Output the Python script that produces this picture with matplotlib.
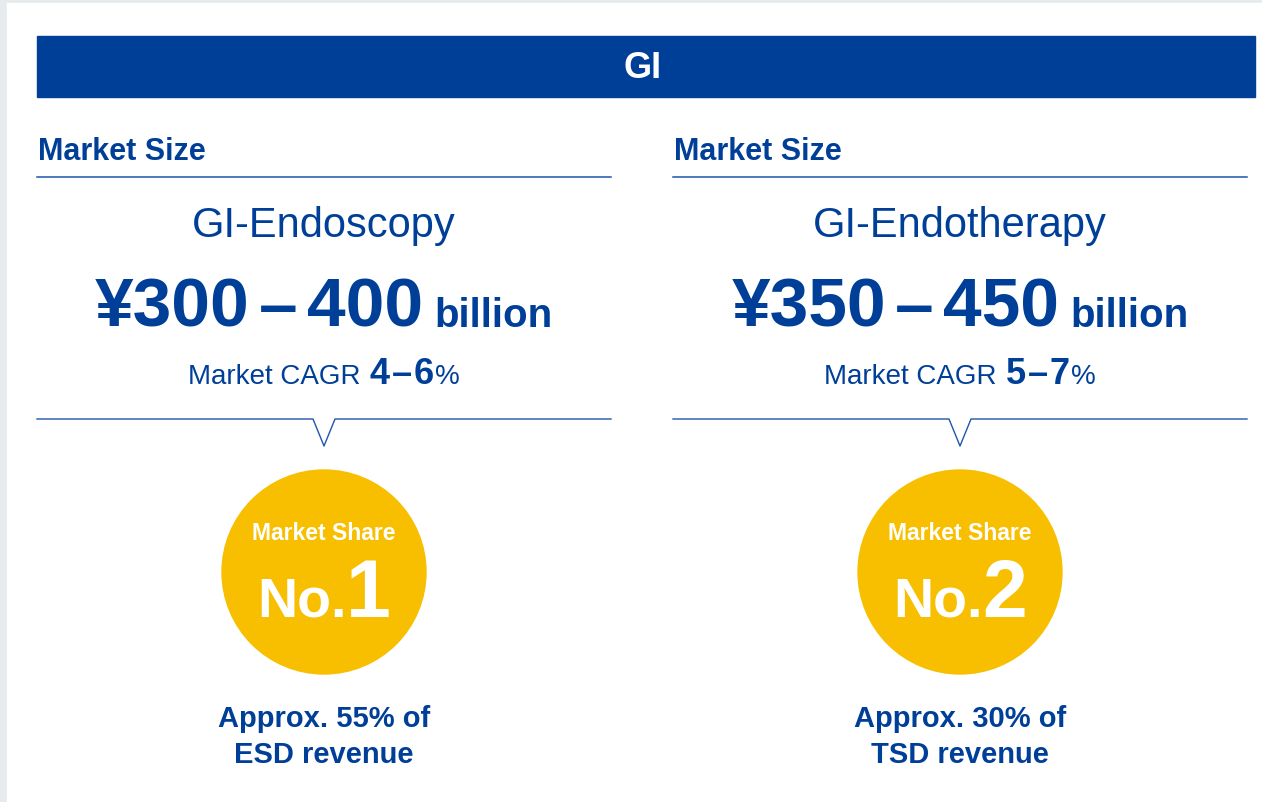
"""
GI market overview card: market size, CAGR and market share per segment.
"""

import matplotlib.pyplot as plt
from matplotlib.patches import Rectangle, Circle

# data
header = 'GI'
segments = ['GI-Endoscopy', 'GI-Endotherapy']
size_low = [300, 350]          # ¥ billion
size_high = [400, 450]
cagr_low = [4, 5]              # %
cagr_high = [6, 7]
share_rank = [1, 2]
share_pct = [55, 30]
procedures = ['ESD', 'TSD']

BLUE = '#003f98'
LINE = '#1f55ab'
YELLOW = '#f8bf00'
GREY = '#e6ebee'
FONT = 'Liberation Sans'

W, H = 1262, 803


def draw_row(ax, renderer, cx, y, pieces, color, zorder=3):
    """Draw text pieces (text, size, weight, gap_after) side by side on one baseline, centred on cx."""
    texts, widths = [], []
    for txt, size, weight, gap in pieces:
        t = ax.text(0, y, txt, fontsize=size, fontweight=weight, family=FONT,
                    color=color, ha='left', va='baseline', zorder=zorder)
        texts.append(t)
        widths.append(t.get_window_extent(renderer).width + gap)
    x = cx - sum(widths) / 2
    for t, w in zip(texts, widths):
        t.set_x(x)
        x += w


fig = plt.figure(figsize=(W / 100, H / 100), dpi=100)
ax = fig.add_axes([0, 0, 1, 1])
ax.set_xlim(0, W)
ax.set_ylim(H, 0)
ax.axis('off')
renderer = fig.canvas.get_renderer()

# page frame
ax.add_patch(Rectangle((0, 0), W, H, color=GREY, zorder=0))
ax.add_patch(Rectangle((7, 4), W - 7, H - 4, color='white', zorder=0))

# header bar
ax.add_patch(Rectangle((37, 37), 1218, 61, color=BLUE, zorder=1))
ax.text(643, 68, header, fontsize=26, fontweight='bold', family=FONT,
        color='white', ha='center', va='center')

col_left = [37, 673]
col_width = 574

for i, seg in enumerate(segments):
    x0 = col_left[i]
    cx = x0 + col_width / 2

    ax.text(x0 + 1, 160, 'Market Size', fontsize=22, fontweight='bold',
            family=FONT, color=BLUE, ha='left', va='baseline')
    ax.plot([x0, x0 + col_width], [178, 178], color=LINE, lw=1.1)

    ax.text(cx, 237, seg, fontsize=30, family=FONT, color=BLUE,
            ha='center', va='baseline')

    draw_row(ax, renderer, cx, 327, [
        (f'¥{size_low[i]}', 50, 'bold', 9),
        ('–', 50, 'bold', 9),
        (f'{size_high[i]}', 50, 'bold', 12),
        ('billion', 29, 'bold', 0),
    ], BLUE)

    draw_row(ax, renderer, cx, 384, [
        ('Market CAGR ', 20, 'normal', 1),
        (f'{cagr_low[i]}', 26, 'bold', 2),
        ('–', 26, 'bold', 2),
        (f'{cagr_high[i]}', 26, 'bold', 1),
        ('%', 20, 'normal', 0),
    ], BLUE)

    # callout line with notch
    ax.plot([x0, cx - 11, cx, cx + 11, x0 + col_width],
            [420, 420, 447, 420, 420], color=LINE, lw=1.0)

    # market share badge
    ax.add_patch(Circle((cx, 573), 102, color=YELLOW, zorder=2))
    ax.text(cx, 540, 'Market Share', fontsize=16.5, fontweight='bold',
            family=FONT, color='white', ha='center', va='baseline', zorder=3)
    draw_row(ax, renderer, cx, 617, [
        ('No.', 40, 'bold', 0),
        (f'{share_rank[i]}', 58, 'bold', 0),
    ], 'white')

    ax.text(cx, 727, f'Approx. {share_pct[i]}% of', fontsize=21,
            fontweight='bold', family=FONT, color=BLUE, ha='center', va='baseline')
    ax.text(cx, 763, f'{procedures[i]} revenue', fontsize=21,
            fontweight='bold', family=FONT, color=BLUE, ha='center', va='baseline')

fig.savefig('out.png', dpi=100)
